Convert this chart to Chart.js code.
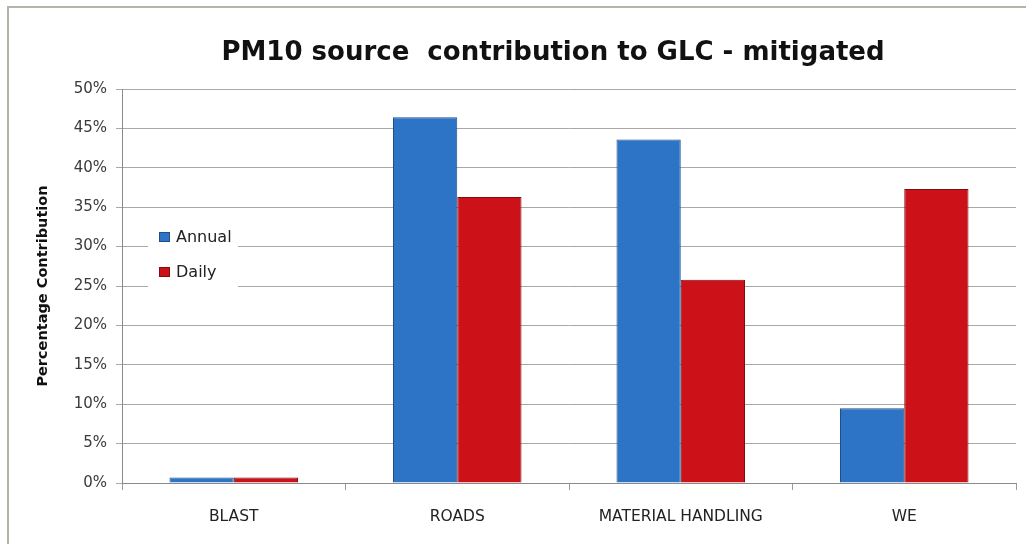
<!DOCTYPE html>
<html>
<head>
<meta charset="utf-8">
<script src="https://cdn.jsdelivr.net/npm/chart.js@4/dist/chart.umd.min.js"></script>
<style>
  html, body { margin: 0; padding: 0; background: #ffffff; }
  #wrap { width: 1026px; height: 544px; position: relative; }
</style>
</head>
<body>
<div id="wrap"><canvas id="c" width="1026" height="544"></canvas></div>
<script>
const categories = ["BLAST", "ROADS", "MATERIAL HANDLING", "WE"];
const annualValues = [0.7, 46.4, 43.6, 9.5];
const dailyValues = [0.7, 36.3, 25.8, 37.3];
const seriesNames = ["Annual", "Daily"];
const chartTitle = "PM10 source  contribution to GLC - mitigated";
const yAxisTitle = "Percentage Contribution";

const FONT = "'DejaVu Sans', sans-serif";
const BLUE = "#2d74c6";
const RED = "#cc1218";

const decorPlugin = {
  id: "decor",
  beforeDraw(chart) {
    const ctx = chart.ctx;
    ctx.save();
    ctx.fillStyle = "#ffffff";
    ctx.fillRect(0, 0, chart.width, chart.height);
    ctx.strokeStyle = "#b4b4ac";
    ctx.lineWidth = 2;
    ctx.beginPath();
    ctx.moveTo(8, 544);
    ctx.lineTo(8, 7);
    ctx.lineTo(1026, 7);
    ctx.stroke();
    ctx.restore();
  },
  afterDraw(chart) {
    const ctx = chart.ctx;
    ctx.save();
    // title
    ctx.fillStyle = "#111111";
    ctx.font = "bold 26px " + FONT;
    ctx.textAlign = "center";
    ctx.textBaseline = "middle";
    ctx.fillText(chartTitle, 553, 53);
    // legend box
    ctx.fillStyle = "#ffffff";
    ctx.fillRect(148, 222, 90, 70);
    const items = chart.data.datasets;
    ctx.font = "16px " + FONT;
    ctx.textAlign = "left";
    items.forEach((ds, i) => {
      const y = 237 + i * 35;
      ctx.fillStyle = ds.backgroundColor;
      ctx.fillRect(159, y - 5, 11, 10);
      ctx.strokeStyle = ds.borderColor;
      ctx.lineWidth = 1;
      ctx.strokeRect(159.5, y - 4.5, 10, 9);
      ctx.fillStyle = "#222222";
      ctx.fillText(ds.label, 176, y + 1);
    });
    ctx.restore();
  }
};

new Chart(document.getElementById("c"), {
  type: "bar",
  data: {
    labels: categories,
    datasets: [
      { label: seriesNames[0], data: annualValues, backgroundColor: BLUE, borderColor: "#1d4f8c", borderWidth: 1 },
      { label: seriesNames[1], data: dailyValues, backgroundColor: RED, borderColor: "#7e0c10", borderWidth: 1 }
    ]
  },
  options: {
    responsive: false,
    animation: false,
    devicePixelRatio: 1,
    layout: { padding: { top: 89, right: 10, left: 0, bottom: 0 } },
    datasets: { bar: { categoryPercentage: 0.575, barPercentage: 1.0 } },
    plugins: {
      legend: { display: false },
      title: { display: false },
      tooltip: { enabled: false }
    },
    scales: {
      x: {
        grid: { display: true, drawOnChartArea: false, drawTicks: true, tickLength: 7, color: "#9a9a9a", offset: true },
        border: { display: true, color: "#8a8a8a", width: 1 },
        ticks: { color: "#222222", font: { family: FONT, size: 15.5 }, padding: 18, maxRotation: 0 },
        afterFit(scale) { scale.height = 61; }
      },
      y: {
        min: 0,
        max: 50,
        ticks: {
          stepSize: 5,
          color: "#3a3a3a",
          font: { family: FONT, size: 15 },
          padding: 9,
          callback: (v) => v + "%"
        },
        grid: { color: "#a8a8a8", lineWidth: 1, tickLength: 6, drawTicks: true },
        border: { display: true, color: "#8a8a8a", width: 1 },
        title: {
          display: true,
          text: yAxisTitle,
          color: "#111111",
          font: { family: FONT, size: 14.5, weight: "bold" },
          padding: { top: 35, bottom: 0 }
        },
        afterFit(scale) { scale.width = 122; }
      }
    }
  },
  plugins: [decorPlugin]
});
</script>
</body>
</html>
